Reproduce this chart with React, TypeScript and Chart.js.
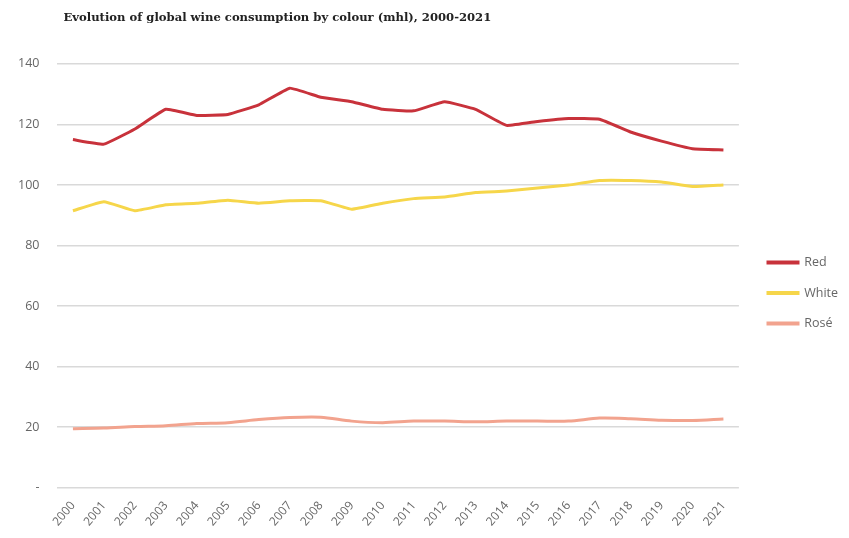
import React, { useEffect, useRef } from "react";
import { Chart, registerables } from "chart.js";

Chart.register(...registerables);

const years = ["2000","2001","2002","2003","2004","2005","2006","2007","2008","2009","2010","2011","2012","2013","2014","2015","2016","2017","2018","2019","2020","2021"];
const red = [115, 113.5, 118.5, 125, 123, 123.3, 126.5, 132, 129, 127.5, 125, 124.5, 127.5, 125, 119.7, 121, 122, 121.7, 117.5, 114.5, 112, 111.6];
const white = [91.5, 94.5, 91.5, 93.5, 94, 95, 94, 94.8, 94.8, 92, 94, 95.5, 96, 97.5, 98, 99, 100, 101.5, 101.5, 101, 99.5, 100];
const rose = [19.5, 19.7, 20.2, 20.5, 21.2, 21.5, 22.5, 23.2, 23.3, 22, 21.5, 22, 22, 21.8, 22, 22, 22, 23, 22.8, 22.3, 22.2, 22.7];
const seriesNames = ["Red", "White", "Rosé"];
const titleText = "Evolution of global wine consumption by colour (mhl), 2000-2021";

const shiftLegend = {
  id: "shiftLegend",
  afterLayout(chart: any) {
    const lg = chart.legend;
    if (lg) {
      const dx = 768 - 18 - lg.left;
      const dy = 27;
      lg.left += dx; lg.right += dx;
      lg.top += dy; lg.bottom += dy;
    }
    const t = chart.titleBlock;
    if (t) { t.left += 6; t.right += 6; }
  },
};

export default function App() {
  const ref = useRef<HTMLCanvasElement>(null);
  useEffect(() => {
    if (!ref.current) return;
    const chart = new Chart(ref.current, {
      type: "line",
      data: {
        labels: years,
        datasets: [
          { label: seriesNames[0], data: red, borderColor: "#c8323b", backgroundColor: "#c8323b", borderWidth: 3, pointRadius: 0, tension: 0.1 },
          { label: seriesNames[1], data: white, borderColor: "#f6d64a", backgroundColor: "#f6d64a", borderWidth: 3, pointRadius: 0, tension: 0.12 },
          { label: seriesNames[2], data: rose, borderColor: "#f2a38e", backgroundColor: "#f2a38e", borderWidth: 3, pointRadius: 0, tension: 0.3 },
        ],
      },
      options: {
        responsive: false,
        animation: false,
        layout: { padding: { left: 0, right: 33, top: 0, bottom: 6 } },
        plugins: {
          title: {
            display: true,
            text: titleText,
            align: "start",
            fullSize: false,
            color: "#222",
            font: { family: "DejaVu Serif", size: 11.6, weight: "bold" },
            padding: { top: 11, bottom: 39 },
          },
          legend: {
            position: "right",
            labels: {
              boxWidth: 30,
              boxHeight: 1,
              padding: 18,
              color: "#666",
              font: { family: "Open Sans", size: 12.5 },
            },
          },
          tooltip: { enabled: false },
        },
        scales: {
          x: {
            offset: true,
            grid: { display: false },
            border: { display: false },
            ticks: {
              color: "#666",
              font: { family: "Open Sans", size: 12 },
              minRotation: 50,
              maxRotation: 50,
              autoSkip: false,
            },
          },
          y: {
            min: 0,
            max: 140,
            grid: { color: "#d9d9d9", lineWidth: 1.5, drawTicks: false },
            border: { display: false },
            ticks: {
              stepSize: 20,
              color: "#666",
              padding: 18,
              font: { family: "Open Sans", size: 12.5 },
              callback: (v: any) => (v === 0 ? "-" : String(v)),
            },
          },
        },
      },
      plugins: [shiftLegend],
    });
    return () => chart.destroy();
  }, []);
  return (
    <div style={{ position: "fixed", left: 0, top: 0, width: 849, height: 538, overflow: "hidden", background: "#fff" }}>
      <canvas ref={ref} width={870} height={538} />
    </div>
  );
}
